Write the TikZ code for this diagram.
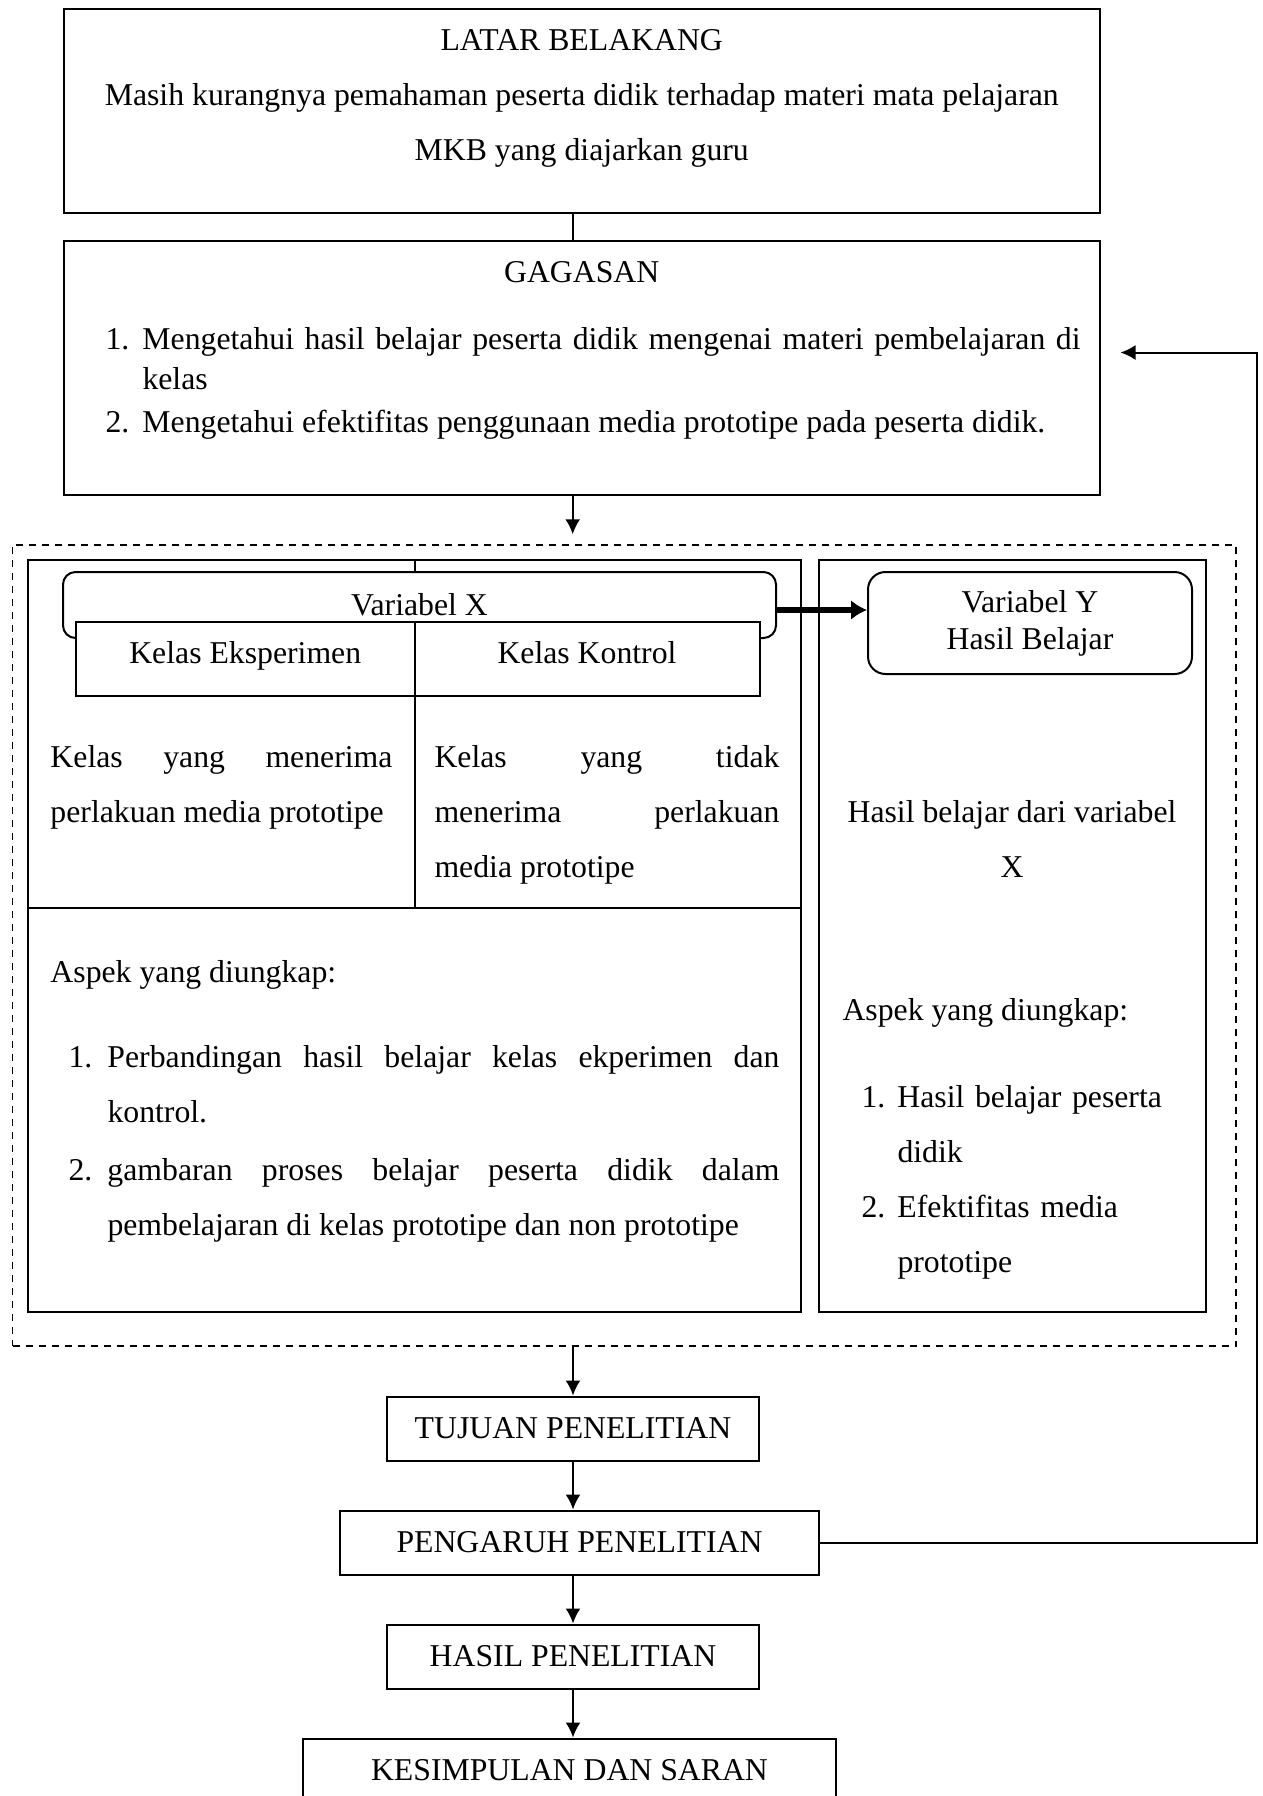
\documentclass[tikz,border=0pt]{standalone}
\usepackage{fontspec}
\setmainfont{Liberation Serif}
\usetikzlibrary{positioning, arrows.meta, fit}

\newcommand{\numitem}[2]{\noindent\hangindent=#1\hangafter=1\makebox[#1][l]{#2}}

\begin{document}
\begin{tikzpicture}[
  x=0.4pt, y=-0.4pt,
  font=\fontsize{12.7}{22}\selectfont,
  node distance=19.2pt,
  box/.style={draw, line width=0.8pt, inner sep=0pt},
  roundbox/.style={box, fill=white, rounded corners=5pt},
  cell/.style={box, fill=white},
  flowbox/.style={box, minimum height=25.6pt},
  label/.style={inner sep=0pt},
  txt/.style={inner sep=0pt, anchor=north west, align=justify},
  dashframe/.style={draw, line width=0.6pt, dash pattern=on 2.8pt off 2.4pt, inner sep=0pt},
  arrow/.style={-{Latex[length=6pt, width=6pt]}, line width=0.8pt},
  bigarrow/.style={-{Latex[length=6.4pt, width=8pt]}, line width=2.6pt}
]
\useasboundingbox (0,0) rectangle (1263,1796);
\clip (0,0) rectangle (1263,1796);

% latar belakang dan gagasan
\node[box, fit={(64,9) (1099.5,213)}] (latar) {};
\node[label, align=center] (latartxt) at (581.75,98)
  {LATAR BELAKANG\\Masih kurangnya pemahaman peserta didik terhadap materi mata pelajaran\\MKB yang diajarkan guru};
\node[box, fit={(64,241) (1099.5,495)}] (gagasan) {};
\node[label] (gagasantitle) at (581.75,272) {GAGASAN};
\node[txt, text width=390pt, font=\fontsize{12.7}{16}\selectfont] (gagasanlist) at (105,327)
  {\parskip=1.2pt\numitem{14.8pt}{1.}Mengetahui hasil belajar peserta didik mengenai materi pembelajaran di\linebreak kelas\par
   \numitem{14.8pt}{2.}Mengetahui efektifitas penggunaan media prototipe pada peserta didik.\par};

% kerangka variabel
\node[dashframe, fit={(12.5,545) (1236,1346)}] (model) {};
\node[box, fit={(28,560) (800.5,1312)}] (leftcol) {};
\node[box, fit={(819,560) (1206,1312)}] (rightcol) {};
\coordinate (split) at (414.5,908);
\draw[line width=0.8pt] (leftcol.north -| split) -- (split);
\draw[line width=0.8pt] (leftcol.west |- split) -- (leftcol.east |- split);
\node[roundbox, fit={(63,572) (776,638)}] (varx) {};
\node[label] at (varx.center) {Variabel X};
\node[cell, fit={(76,622) (414.5,696)}] (eksperimen) {};
\node[label, anchor=base] at ([yshift=-1.9pt]eksperimen.center) {Kelas Eksperimen};
\node[cell, fit={(414.5,622) (759.5,696)}] (kontrol) {};
\node[label, anchor=base] at ([yshift=-1.9pt]kontrol.center) {Kelas Kontrol};
\node[roundbox, rounded corners=7pt, fit={(868,572) (1192,674)}] (vary) {};
\node[label, align=center, font=\fontsize{12.7}{14.8}\selectfont] at (vary.center) {Variabel Y\\Hasil Belajar};
\draw[bigarrow] ([yshift=-2pt]varx.east) -- ([yshift=-2pt]varx.east -| vary.west);

\node[txt, text width=136.8pt] (eksperimentxt) at (50,745)
  {\noindent Kelas yang menerima\linebreak perlakuan media prototipe};
\node[txt, text width=138pt] (kontroltxt) at (434,745)
  {\noindent Kelas yang tidak\linebreak menerima perlakuan\linebreak media prototipe};
\node[label, anchor=west] (aspekx) at (50,974.5) {Aspek yang diungkap:};
\node[txt, text width=284.4pt] (aspekxlist) at (68,1045)
  {\parskip=1pt\numitem{15.6pt}{1.}Perbandingan hasil belajar kelas ekperimen dan\linebreak kontrol.\par
   \numitem{15.6pt}{2.}gambaran proses belajar peserta didik dalam\linebreak pembelajaran di kelas prototipe dan non prototipe\par};
\node[label, align=center] (varytxt) at (1012,838.5) {Hasil belajar dari variabel\\X};
\node[label, anchor=west] (aspeky) at (842,1012.5) {Aspek yang diungkap:};
\node[txt, text width=140pt, align=left] (aspekylist) at (861,1085)
  {\numitem{14.4pt}{1.}Hasil belajar peserta\newline didik\par
   \numitem{14.4pt}{2.}Efektifitas media\newline prototipe\par};

% alur penelitian
\coordinate (axis) at (572.7,0);
\node[flowbox, minimum width=148.8pt] (tujuan) at (573,1428.5) {TUJUAN PENELITIAN};
\node[flowbox, minimum width=191.6pt, below=of tujuan, xshift=2.6pt] (pengaruh) {PENGARUH PENELITIAN};
\node[flowbox, minimum width=148.8pt, below=of pengaruh, xshift=-2.6pt] (hasil) {HASIL PENELITIAN};
\node[flowbox, minimum width=213.2pt, below=of hasil, xshift=-1.4pt] (kesimpulan) {KESIMPULAN DAN SARAN};

\draw[line width=0.8pt] (latar.south -| axis) -- (gagasan.north -| axis);
\draw[arrow, shorten >=4pt] (gagasan.south -| axis) -- (model.north -| axis);
\draw[arrow] (model.south -| tujuan) -- (tujuan.north);
\draw[arrow] (tujuan.south) -- (tujuan.south |- pengaruh.north);
\draw[arrow] (hasil.north |- pengaruh.south) -- (hasil.north);
\draw[arrow] (hasil.south) -- (hasil.south |- kesimpulan.north);
\coordinate (loop) at (1256.5,352.5);
\draw[arrow, shorten >=8pt] (pengaruh.east) -| (loop) -- (gagasan.east |- loop);
\end{tikzpicture}
\end{document}
